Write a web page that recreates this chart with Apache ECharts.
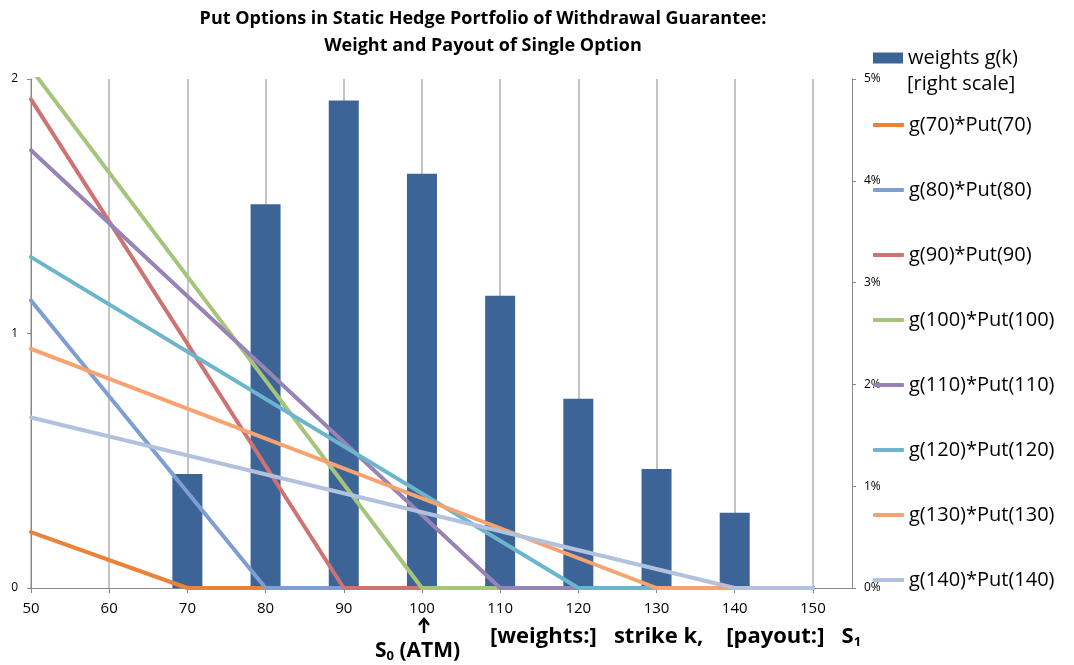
<!DOCTYPE html>
<html>
<head>
<meta charset="utf-8">
<script src="https://cdn.jsdelivr.net/npm/echarts@6/dist/echarts.min.js"></script>
<style>
html,body{margin:0;padding:0;background:#fff;}
#main{width:1074px;height:665px;}
</style>
</head>
<body>
<div id="main"></div>
<script>
// strikes and weights (right scale, %)
var strikes = [70, 80, 90, 100, 110, 120, 130, 140];
var weights = [1.12, 3.77, 4.79, 4.07, 2.87, 1.86, 1.17, 0.74];
// payout of each weighted put at S = 50 (left scale)
var payoutAt50 = [0.22, 1.13, 1.92, 2.04, 1.72, 1.30, 0.94, 0.67];
var xTicks = [50, 60, 70, 80, 90, 100, 110, 120, 130, 140, 150];
var lineColors = ['#E9833A', '#7E9ED2', '#CD7371', '#A7C57A', '#9883B5', '#6BB6CD', '#F8A36F', '#B2C1DE'];

var font = '"Open Sans", sans-serif';
var myChart = echarts.init(document.getElementById('main'));

var series = [{
    name: 'weights g(k)',
    type: 'bar',
    yAxisIndex: 1,
    barWidth: 30,
    itemStyle: {color: '#3C6496'},
    data: strikes.map(function (k, i) { return [k, weights[i]]; })
}];
var lineNames = [];
strikes.forEach(function (k, i) {
    var nm = 'g(' + k + ')*Put(' + k + ')';
    lineNames.push(nm);
    series.push({
        name: nm,
        type: 'line',
        symbol: 'none',
        clip: true,
        lineStyle: {width: 4, color: lineColors[i], cap: 'round'},
        itemStyle: {color: lineColors[i]},
        data: [[50, payoutAt50[i]], [k, 0], [150, 0]]
    });
});

var option = {
    animation: false,
    title: {
        text: 'Put Options in Static Hedge Portfolio of Withdrawal Guarantee:\nWeight and Payout of Single Option',
        left: 478, top: 0, textAlign: 'center',
        textStyle: {fontFamily: font, fontSize: 18, fontWeight: 'bold', color: '#000', lineHeight: 27}
    },
    legend: [{
        data: ['weights g(k)'],
        left: 873, top: 46, padding: 0,
        icon: 'rect', itemWidth: 30, itemHeight: 11,
        textStyle: {fontFamily: font, fontSize: 20, color: '#000', lineHeight: 24}
    }, {
        data: lineNames,
        orient: 'vertical',
        left: 873, top: 113, padding: 0,
        icon: 'roundRect', itemWidth: 31, itemHeight: 4, itemGap: 41,
        textStyle: {fontFamily: font, fontSize: 20, color: '#000', lineHeight: 24}
    }],
    grid: {left: 31, right: 222, top: 79, bottom: 77},
    xAxis: {
        type: 'value', min: 50, max: 155, interval: 10,
        axisLine: {lineStyle: {color: '#888'}},
        axisTick: {customValues: xTicks, length: 5, lineStyle: {color: '#888'}},
        axisLabel: {customValues: xTicks, margin: 13, fontFamily: font, fontSize: 15, color: '#000'},
        splitLine: {show: true, lineStyle: {color: '#B0B0B0', width: 1.5}}
    },
    yAxis: [{
        type: 'value', min: 0, max: 2, interval: 1,
        axisLine: {show: true, lineStyle: {color: '#888'}},
        axisTick: {show: true, length: 4, lineStyle: {color: '#888'}},
        axisLabel: {margin: 13, fontFamily: font, fontSize: 12, color: '#000'},
        splitLine: {show: false}
    }, {
        type: 'value', min: 0, max: 5, interval: 1,
        axisLine: {show: true, lineStyle: {color: '#888'}},
        axisTick: {show: true, length: 4, lineStyle: {color: '#888'}},
        axisLabel: {margin: 12, fontFamily: font, fontSize: 12, color: '#000',
            formatter: function (v) { return v + '%'; }},
        splitLine: {show: false}
    }],
    graphic: [{
        type: 'text', left: 907, top: 74,
        style: {text: '[right scale]', font: '20px ' + font, fill: '#000'}
    }, {
        type: 'polyline',
        shape: {points: [[424, 633], [424, 620]]},
        style: {stroke: '#000', lineWidth: 2.5}
    }, {
        type: 'polyline',
        shape: {points: [[419, 625], [424, 619], [429, 625]]},
        style: {stroke: '#000', lineWidth: 2.5, fill: null}
    }, {
        type: 'text', x: 375, y: 651,
        style: {
            text: '{b|S}{s|0}{b| (ATM)}',
            verticalAlign: 'middle',
            rich: {
                b: {font: 'bold 21px ' + font, fill: '#000'},
                s: {font: 'bold 13px ' + font, fill: '#000', padding: [10, 0, 0, 0]}
            }
        }
    }, {
        type: 'text', x: 490, y: 637,
        style: {
            text: '{b|[weights:]   strike k,    [payout:]   S}{s|1}',
            verticalAlign: 'middle',
            rich: {
                b: {font: 'bold 22px ' + font, fill: '#000'},
                s: {font: 'bold 13px ' + font, fill: '#000', padding: [10, 0, 0, 0]}
            }
        }
    }],
    series: series
};

myChart.setOption(option);
</script>
</body>
</html>
